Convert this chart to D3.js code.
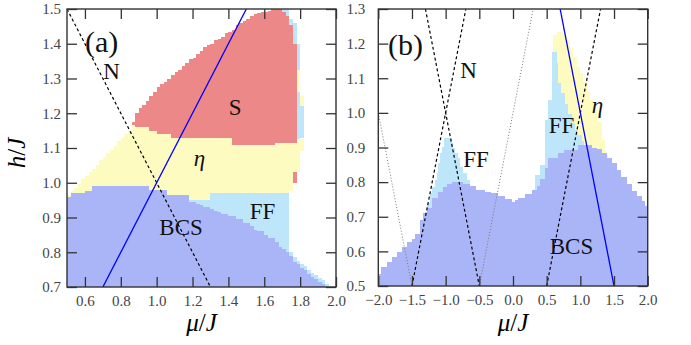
<!DOCTYPE html>
<html>
<head>
<meta charset="utf-8">
<title>Phase diagram</title>
<script src="https://cdnjs.cloudflare.com/ajax/libs/d3/7.8.5/d3.min.js"></script>
<style>
body { margin: 0; background: #fff; }
svg, svg text, svg tspan { font-family: "Liberation Serif", "DejaVu Serif", serif !important; }
.tick text { font-size: 15px; fill: #444; }
.tick line { stroke: #333; stroke-width: 1.3px; }
.lbl { font-size: 23px; fill: #111; }
</style>
</head>
<body>
<div id="chart"></div>
<script>
// ---- panel (a): step boundaries [mu start, top of phase] ----
var aBcsTop = [[0.50,0.96],[0.52,0.97],[0.60,0.975],[0.64,0.99],[0.96,0.98],[1.06,0.965],[1.18,0.945],
  [1.22,0.94],[1.24,0.935],[1.26,0.93],[1.30,0.925],[1.32,0.92],[1.34,0.915],[1.36,0.91],[1.40,0.905],
  [1.44,0.895],[1.48,0.885],[1.52,0.875],[1.54,0.865],[1.56,0.86],[1.60,0.85],[1.62,0.84],[1.66,0.83],
  [1.68,0.815],[1.70,0.81],[1.72,0.80],[1.74,0.79],[1.76,0.772],[1.78,0.765],[1.80,0.755],[1.82,0.748],
  [1.84,0.738],[1.86,0.73],[1.88,0.724],[1.90,0.715],[1.92,0.71],[1.94,0.70]];
var aFfTop = [[0.50,null],[1.16,0.95],[1.30,0.97],[1.74,0.80],[1.76,0.785],[1.78,0.775],[1.80,0.765],
  [1.82,0.76],[1.84,0.75],[1.86,0.74],[1.88,0.735],[1.90,0.725],[1.92,0.72],[1.94,0.71],[1.96,0.70]];
var aEtaTop = [[0.50,0.965],[0.52,0.975],[0.54,0.985],[0.56,0.995],[0.58,1.01],[0.60,1.02],[0.62,1.03],
  [0.64,1.04],[0.66,1.05],[0.68,1.065],[0.70,1.075],[0.72,1.085],[0.74,1.095],[0.76,1.105],[0.78,1.12],
  [0.80,1.13],[0.82,1.14],[0.84,1.15],[0.86,1.165],[0.88,1.16],[0.96,1.15],[1.00,1.14],[1.08,1.13],
  [1.42,1.11],[1.66,1.115],[1.78,1.125],[1.82,null]];
var aSTop = [[0.50,null],[0.86,1.175],[0.88,1.20],[0.90,1.215],[0.92,1.225],[0.94,1.235],[0.96,1.25],
  [0.98,1.26],[1.00,1.275],[1.02,1.285],[1.04,1.29],[1.06,1.30],[1.08,1.31],[1.10,1.32],[1.12,1.325],
  [1.14,1.335],[1.16,1.345],[1.18,1.355],[1.20,1.36],[1.22,1.37],[1.24,1.38],[1.26,1.39],[1.28,1.395],
  [1.30,1.40],[1.32,1.41],[1.34,1.415],[1.36,1.42],[1.38,1.43],[1.40,1.435],[1.42,1.44],[1.44,1.455],
  [1.46,1.46],[1.48,1.465],[1.50,1.47],[1.52,1.48],[1.54,1.485],[1.56,1.488],[1.58,1.49],[1.60,1.492],
  [1.62,1.495],[1.64,1.50],[1.70,1.49],[1.72,1.48],[1.74,1.455],[1.76,1.40],[1.78,null]];
// small pieces at the right edge of (a)
var aStripMu = [1.70, 1.72, 1.74, 1.76, 1.78, 1.80], aStripLo = [1.115, 1.115, 1.115, 1.115, 1.125, 1.13],
    aStripHi = [1.50, 1.50, 1.47, 1.46, 1.40, 1.22];
var aEtaBitMu = [1.78, 1.80], aEtaBitLo = [1.26, 1.22], aEtaBitHi = [1.325, 1.25];
var aGapMu = [1.74, 1.76, 1.78, 1.80], aGapLo = [0.80, 0.785, 0.775, 0.765], aGapHi = [0.975, 1.0, 1.03, 1.09];
var aSpotMu = [1.76], aSpotLo = [1.0], aSpotHi = [1.03];

var aBlue = [[0.7, 0.7], [1.5, 1.5]];
var aDashed = [[[0.5, 1.5], [1.3, 0.7]]];
var aXTicks = [0.6, 0.8, 1.0, 1.2, 1.4, 1.6, 1.8, 2.0];
var aYTicks = [0.7, 0.8, 0.9, 1.0, 1.1, 1.2, 1.3, 1.4, 1.5];

// ---- panel (b) ----
var bBcsTop = [[-2.0,0.535],[-1.96,0.555],[-1.875,0.569],[-1.80,0.584],[-1.727,0.598],[-1.653,0.613],
  [-1.579,0.627],[-1.505,0.637],[-1.455,0.651],[-1.38,0.69],[-1.33,0.711],[-1.28,0.725],[-1.21,0.753],
  [-1.11,0.772],[-1.035,0.787],[-0.985,0.795],[-0.91,0.80],[-0.74,0.795],[-0.64,0.788],[-0.55,0.778],
  [-0.42,0.772],[-0.32,0.768],[-0.22,0.76],[-0.12,0.75],[-0.02,0.742],[0.03,0.748],[0.08,0.755],
  [0.18,0.765],[0.28,0.776],[0.35,0.79],[0.40,0.81],[0.475,0.84],[0.525,0.869],[0.67,0.884],
  [0.75,0.893],[0.97,0.907],[1.17,0.90],[1.24,0.895],[1.32,0.885],[1.39,0.87],[1.465,0.855],
  [1.54,0.835],[1.61,0.815],[1.69,0.795],[1.76,0.775],[1.84,0.76],[1.91,0.745],[1.96,0.73]];
var bFfTop = [[-2.0,null],[-1.31,0.715],[-1.28,0.739],[-1.23,0.768],[-1.21,0.787],[-1.16,0.806],
  [-1.13,0.825],[-1.11,0.854],[-1.08,0.883],[-1.06,0.902],[-1.02,0.927],[-0.91,0.912],[-0.89,0.898],
  [-0.86,0.883],[-0.81,0.869],[-0.79,0.845],[-0.74,0.825],[-0.69,0.806],[-0.64,null],[0.33,0.82],
  [0.40,0.85],[0.475,0.98],[0.525,1.037],[0.575,1.177],[0.65,1.143],[0.67,1.085],[0.72,1.056],
  [0.77,1.027],[0.82,0.998],[0.87,0.97],[0.92,0.95],[0.97,0.935],[1.02,0.92],[1.06,null]];
var bEtaTop = [[-2.0,null],[0.60,1.225],[0.65,1.234],[0.747,1.224],[0.796,1.21],[0.846,1.186],
  [0.896,1.162],[0.945,1.133],[0.995,1.114],[1.044,1.09],[1.094,1.061],[1.143,1.037],[1.193,1.008],
  [1.242,0.975],[1.317,0.922],[1.366,0.878],[1.416,null]];

var bBlue = [[0.7, 1.3], [1.5, 0.5]];
var bDashed = [[[-1.5, 0.5], [-0.7, 1.3]], [[-1.3, 1.3], [-0.5, 0.5]], [[0.5, 0.5], [1.3, 1.3]]];
var bDotted = [[[-2.0, 1.0], [-1.5, 0.5]], [[-0.5, 0.5], [0.3, 1.3]]];
var bXTicks = [-2.0, -1.5, -1.0, -0.5, 0.0, 0.5, 1.0, 1.5, 2.0];
var bYTicks = [0.5, 0.6, 0.7, 0.8, 0.9, 1.0, 1.1, 1.2, 1.3];

var colors = { bcs: "#aab5f7", ff: "#bde6fa", eta: "#fdfbc0", s: "#ec8888", white: "#ffffff" };
var SERIF = "'Liberation Serif', 'DejaVu Serif', serif";

var svg = d3.select("#chart").append("svg").attr("width", 691).attr("height", 345)
  .style("font-family", SERIF);

function stepAt(steps, m) {
  var v = null;
  for (var i = 0; i < steps.length; i++) {
    if (steps[i][0] <= m + 1e-9) v = steps[i][1]; else break;
  }
  return v;
}

// fill one phase between the top of the layers below it and its own top
function layerPath(x, y, layers, k, x0, x1, base) {
  var set = new Set([x0]);
  for (var i = 0; i <= k; i++) layers[i].forEach(function (s) { if (s[0] >= x0 && s[0] < x1) set.add(s[0]); });
  var ms = Array.from(set).sort(function (p, q) { return p - q; });
  var pts = ms.map(function (m) {
    var lo = base;
    for (var i = 0; i < k; i++) { var v = stepAt(layers[i], m); if (v != null) lo = Math.max(lo, v); }
    var t = stepAt(layers[k], m);
    return { m: m, lo: lo, hi: t == null ? lo : Math.max(lo, t) };
  });
  var last = pts[pts.length - 1];
  pts.push({ m: x1, lo: last.lo, hi: last.hi });
  return d3.area().x(function (d) { return x(d.m); }).y0(function (d) { return y(d.lo); })
    .y1(function (d) { return y(d.hi); }).curve(d3.curveStepAfter)(pts);
}

function patchPath(x, y, mu, lo, hi, step) {
  var pts = mu.map(function (m, i) { return { m: m, lo: lo[i], hi: hi[i] }; });
  var n = mu.length - 1;
  pts.push({ m: mu[n] + step, lo: lo[n], hi: hi[n] });
  return d3.area().x(function (d) { return x(d.m); }).y0(function (d) { return y(d.lo); })
    .y1(function (d) { return y(d.hi); }).curve(d3.curveStepAfter)(pts);
}

function panel(cfg) {
  var x = d3.scaleLinear().domain(cfg.xDom).range([cfg.left, cfg.right]);
  var y = d3.scaleLinear().domain(cfg.yDom).range([cfg.bottom, cfg.top]);
  var g = svg.append("g");

  svg.append("clipPath").attr("id", "clip-" + cfg.id).append("rect")
    .attr("x", cfg.left).attr("y", cfg.top)
    .attr("width", cfg.right - cfg.left).attr("height", cfg.bottom - cfg.top);

  var fills = g.append("g").attr("clip-path", "url(#clip-" + cfg.id + ")")
    .attr("shape-rendering", "crispEdges");
  cfg.draw(fills, x, y);

  var lines = g.append("g").attr("clip-path", "url(#clip-" + cfg.id + ")").attr("fill", "none");
  var line = d3.line().x(function (d) { return x(d[0]); }).y(function (d) { return y(d[1]); });
  (cfg.dotted || []).forEach(function (seg) {
    lines.append("path").attr("d", line(seg)).attr("stroke", "#777").attr("stroke-width", 1)
      .attr("stroke-dasharray", "1,2");
  });
  cfg.dashed.forEach(function (seg) {
    lines.append("path").attr("d", line(seg)).attr("stroke", "#000").attr("stroke-width", 1.2)
      .attr("stroke-dasharray", "3,2.5");
  });
  lines.append("path").attr("d", line(cfg.blue)).attr("stroke", "#0000ff").attr("stroke-width", 1.3);

  // axes with inward ticks on all four sides
  var fmt = d3.format(".1f");
  g.append("g").attr("class", "axis").attr("transform", "translate(0," + cfg.bottom + ")")
    .call(d3.axisBottom(x).tickValues(cfg.xTicks).tickFormat(fmt).tickSize(-10).tickPadding(8));
  g.append("g").attr("class", "axis").attr("transform", "translate(0," + cfg.top + ")")
    .call(d3.axisTop(x).tickValues(cfg.xTicks).tickFormat("").tickSize(-10));
  g.append("g").attr("class", "axis").attr("transform", "translate(" + cfg.left + ",0)")
    .call(d3.axisLeft(y).tickValues(cfg.yTicks).tickFormat(fmt).tickSize(-10).tickPadding(cfg.labelGap));
  g.append("g").attr("class", "axis").attr("transform", "translate(" + cfg.right + ",0)")
    .call(d3.axisRight(y).tickValues(cfg.yTicks).tickFormat("").tickSize(-10));
  g.selectAll(".axis .domain").remove();
  g.selectAll(".axis").attr("font-family", SERIF).attr("font-size", 15);
  g.selectAll(".axis text").style("font-family", SERIF);

  g.append("rect").attr("x", cfg.left).attr("y", cfg.top)
    .attr("width", cfg.right - cfg.left).attr("height", cfg.bottom - cfg.top)
    .attr("fill", "none").attr("stroke", "#333").attr("stroke-width", 1.4);

  cfg.labels.forEach(function (l) {
    g.append("text").attr("class", "lbl").attr("x", x(l.m)).attr("y", y(l.h))
      .attr("text-anchor", l.anchor || "middle").style("font-family", SERIF)
      .style("font-style", l.italic ? "italic" : null)
      .style("font-size", l.size ? l.size + "px" : null).text(l.t);
  });

  var xl = svg.append("text").attr("x", (cfg.left + cfg.right) / 2).attr("y", 331)
    .attr("text-anchor", "middle").style("font-size", "25px").style("font-family", SERIF);
  xl.append("tspan").style("font-style", "italic").text("μ");
  xl.append("tspan").text("/");
  xl.append("tspan").style("font-style", "italic").text("J");
}

panel({
  id: "a", left: 67, right: 336, top: 9, bottom: 287, xDom: [0.5, 2.0], yDom: [0.7, 1.5],
  xTicks: aXTicks, yTicks: aYTicks, labelGap: 6,
  blue: aBlue, dashed: aDashed,
  draw: function (g, x, y) {
    var layers = [aBcsTop, aFfTop, aEtaTop, aSTop];
    var cols = [colors.bcs, colors.ff, colors.eta];
    for (var k = 0; k < 3; k++)
      g.append("path").attr("d", layerPath(x, y, layers, k, 0.5, 2.0, 0.7)).attr("fill", cols[k]);
    g.append("path").attr("d", patchPath(x, y, aStripMu, aStripLo, aStripHi, 0.02)).attr("fill", colors.ff);
    g.append("path").attr("d", layerPath(x, y, layers, 3, 0.5, 2.0, 0.7)).attr("fill", colors.s);
    g.append("path").attr("d", patchPath(x, y, aEtaBitMu, aEtaBitLo, aEtaBitHi, 0.02)).attr("fill", colors.eta);
    g.append("path").attr("d", patchPath(x, y, aGapMu, aGapLo, aGapHi, 0.02)).attr("fill", colors.white);
    g.append("path").attr("d", patchPath(x, y, aSpotMu, aSpotLo, aSpotHi, 0.02)).attr("fill", colors.s);
  },
  labels: [
    { t: "(a)", m: 0.6, h: 1.376, anchor: "start", size: 30 },
    { t: "N", m: 0.748, h: 1.30 },
    { t: "S", m: 1.437, h: 1.195 },
    { t: "η", m: 1.239, h: 1.048, italic: true },
    { t: "BCS", m: 1.136, h: 0.85 },
    { t: "FF", m: 1.59, h: 0.896 }
  ]
});

panel({
  id: "b", left: 378.3, right: 647.7, top: 9, bottom: 286, xDom: [-2, 2], yDom: [0.5, 1.3],
  xTicks: bXTicks, yTicks: bYTicks, labelGap: 13,
  blue: bBlue, dashed: bDashed, dotted: bDotted,
  draw: function (g, x, y) {
    var layers = [bBcsTop, bFfTop, bEtaTop];
    var cols = [colors.bcs, colors.ff, colors.eta];
    for (var k = 0; k < 3; k++)
      g.append("path").attr("d", layerPath(x, y, layers, k, -2, 2, 0.5)).attr("fill", cols[k]);
  },
  labels: [
    { t: "(b)", m: -1.857, h: 1.167, anchor: "start", size: 30 },
    { t: "N", m: -0.661, h: 1.10 },
    { t: "FF", m: -0.549, h: 0.844 },
    { t: "FF", m: 0.72, h: 0.942 },
    { t: "η", m: 1.255, h: 1.0, italic: true },
    { t: "BCS", m: 0.869, h: 0.592 }
  ]
});

var yl = svg.append("text").attr("transform", "translate(25,153) rotate(-90)")
  .attr("text-anchor", "middle").style("font-size", "25px").style("font-family", SERIF);
yl.append("tspan").style("font-style", "italic").text("h");
yl.append("tspan").text("/");
yl.append("tspan").style("font-style", "italic").text("J");
</script>
</body>
</html>
